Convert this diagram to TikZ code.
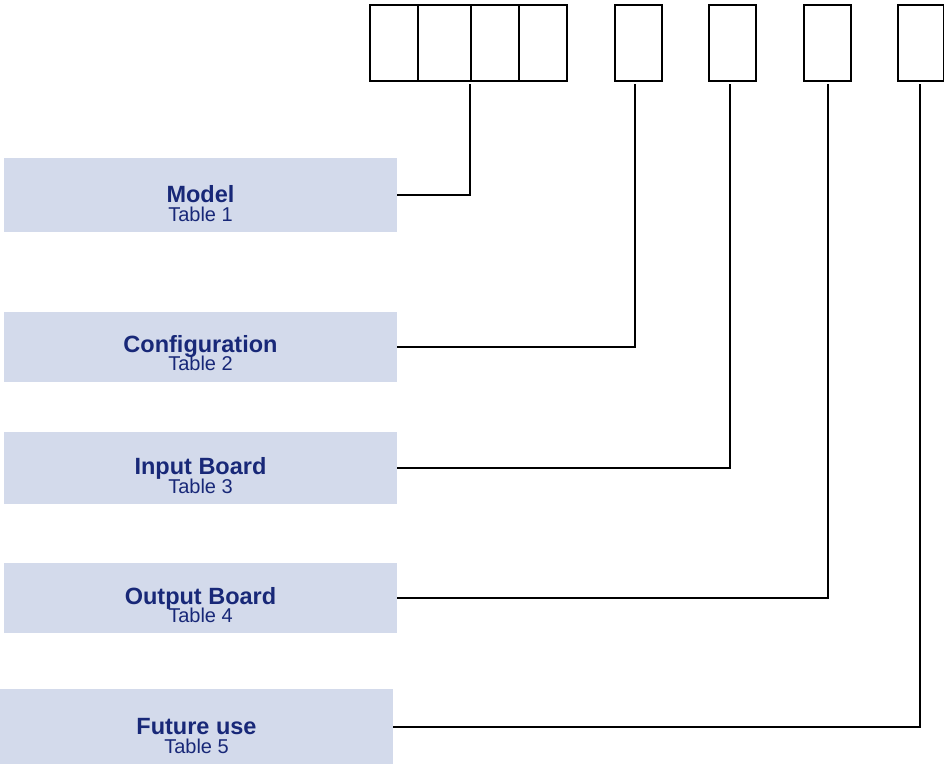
\documentclass[tikz,border=0pt]{standalone}
\usepackage{fontspec}
\setmainfont{Liberation Sans}
\definecolor{boxfill}{RGB}{211,218,235}
\definecolor{labelblue}{RGB}{24,40,120}
\tikzset{
  codebox/.style={draw=black,line width=2pt,minimum height=76pt,inner sep=0pt,anchor=north west},
  fieldbox/.style={fill=boxfill,minimum width=393pt,inner sep=0pt},
  fieldname/.style={anchor=base,inner sep=0pt,text=labelblue,font=\fontsize{23.5}{26}\selectfont\bfseries},
  tablename/.style={anchor=base,inner sep=0pt,text=labelblue,font=\fontsize{20}{22}\selectfont},
  wire/.style={draw=black,line width=2pt}
}
\begin{document}
\begin{tikzpicture}[x=1pt,y=1pt,yscale=-1,xscale=1]
\useasboundingbox (0,0) rectangle (944,764);

% Code Boxes
\node [codebox,minimum width=48pt] (codeA) at (369,4) {};
\node [codebox,minimum width=53pt] (codeB) at (417,4) {};
\node [codebox,minimum width=48pt] (codeC) at (470,4) {};
\node [codebox,minimum width=48pt] (codeD) at (518,4) {};
\node [codebox,minimum width=47pt] (codeE) at (614,4) {};
\node [codebox,minimum width=47pt] (codeF) at (708,4) {};
\node [codebox,minimum width=47pt] (codeG) at (803,4) {};
\node [codebox,minimum width=46pt] (codeH) at (897,4) {};

% Field Boxes
\node [fieldbox,minimum height=74pt] (model) at (200.5,195) {};
\node [fieldbox,minimum height=70pt] (config) at (200.5,347) {};
\node [fieldbox,minimum height=72pt] (input) at (200.5,468) {};
\node [fieldbox,minimum height=70pt] (output) at (200.5,598) {};
\node [fieldbox,minimum height=75pt] (future) at (196.5,726.5) {};

% Text Nodes
\node [fieldname] (modelN) at ([yshift=7pt]model.center) {Model};
\node [tablename] (modelT) at ([yshift=26pt]model.center) {Table 1};
\node [fieldname] (configN) at ([yshift=5pt]config.center) {Configuration};
\node [tablename] (configT) at ([yshift=23pt]config.center) {Table 2};
\node [fieldname] (inputN) at ([yshift=6pt]input.center) {Input Board};
\node [tablename] (inputT) at ([yshift=25pt]input.center) {Table 3};
\node [fieldname] (outputN) at ([yshift=6pt]output.center) {Output Board};
\node [tablename] (outputT) at ([yshift=24pt]output.center) {Table 4};
\node [fieldname] (futureN) at ([yshift=7.5pt]future.center) {Future use};
\node [tablename] (futureT) at ([yshift=26.5pt]future.center) {Table 5};

% Connectors
\coordinate (tapA) at (470,84);
\coordinate (tapE) at (635,84);
\coordinate (tapF) at (730,84);
\coordinate (tapG) at (828,84);
\coordinate (tapH) at (920,84);
\draw [wire] (tapA) |- (model.east);
\draw [wire] (tapE) |- (config.east);
\draw [wire] (tapF) |- (input.east);
\draw [wire] (tapG) |- (output.east);
\draw [wire] (tapH) |- (future.east);

\end{tikzpicture}
\end{document}
